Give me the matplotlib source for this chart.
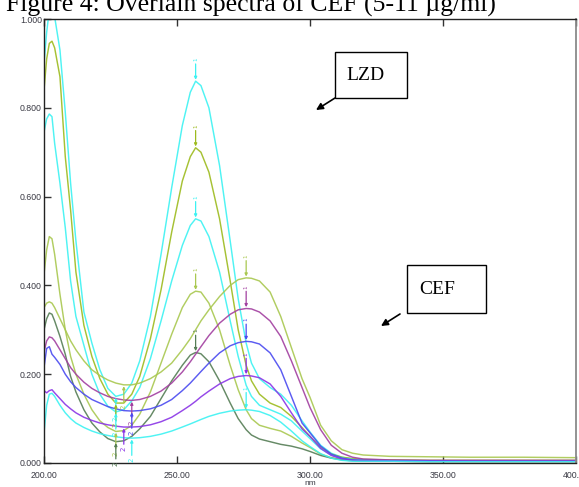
import matplotlib
matplotlib.use("Agg")
import matplotlib.pyplot as plt
import numpy as np
from matplotlib.patches import Rectangle, FancyArrowPatch

# ---------------- data ----------------
wl = [200, 201, 202, 203, 204, 206, 208, 210, 212, 215, 218, 221, 224, 227, 230,
      233, 236, 240, 244, 248, 252, 255, 257, 259, 262, 266, 270, 273, 276, 278,
      281, 285, 289, 293, 297, 300, 304, 308, 312, 316, 320, 330, 345, 360, 380, 400]

lzd_cyan_1 = [0.90, 0.97, 1.02, 1.04, 1.005, 0.93, 0.79, 0.63, 0.50, 0.34, 0.27, 0.21, 0.168, 0.15, 0.155,
              0.18, 0.23, 0.33, 0.47, 0.62, 0.76, 0.835, 0.86, 0.85, 0.80, 0.67, 0.50, 0.37, 0.27, 0.225,
              0.19, 0.17, 0.155, 0.13, 0.095, 0.07, 0.04, 0.022, 0.013, 0.009, 0.007, 0.006, 0.005, 0.005, 0.005, 0.005]
lzd_green_2 = [0.84, 0.91, 0.945, 0.95, 0.935, 0.87, 0.69, 0.57, 0.43, 0.31, 0.24, 0.19, 0.155, 0.135, 0.135,
               0.155, 0.195, 0.28, 0.39, 0.52, 0.635, 0.69, 0.71, 0.70, 0.655, 0.55, 0.41, 0.30, 0.22, 0.185,
               0.155, 0.135, 0.125, 0.105, 0.08, 0.06, 0.035, 0.02, 0.013, 0.01, 0.008, 0.007, 0.006, 0.006, 0.006, 0.006]
lzd_cyan_3 = [0.745, 0.775, 0.786, 0.78, 0.72, 0.63, 0.53, 0.41, 0.33, 0.265, 0.20, 0.155, 0.128, 0.115, 0.12,
              0.14, 0.17, 0.235, 0.32, 0.41, 0.49, 0.535, 0.55, 0.545, 0.51, 0.43, 0.32, 0.24, 0.175, 0.15,
              0.13, 0.12, 0.11, 0.095, 0.072, 0.055, 0.032, 0.018, 0.011, 0.008, 0.006, 0.005, 0.005, 0.005, 0.005, 0.005]
lzd_green_4 = [0.425, 0.48, 0.51, 0.505, 0.47, 0.38, 0.30, 0.24, 0.20, 0.155, 0.12, 0.095, 0.08, 0.071, 0.073,
               0.085, 0.11, 0.16, 0.225, 0.29, 0.35, 0.38, 0.387, 0.385, 0.36, 0.30, 0.22, 0.165, 0.12, 0.10,
               0.085, 0.078, 0.072, 0.06, 0.045, 0.035, 0.02, 0.012, 0.008, 0.006, 0.005, 0.005, 0.004, 0.004, 0.004, 0.004]
lzd_dark_5 = [0.30, 0.325, 0.338, 0.335, 0.32, 0.285, 0.245, 0.195, 0.16, 0.12, 0.09, 0.07, 0.055, 0.048, 0.05,
              0.06, 0.077, 0.105, 0.145, 0.185, 0.22, 0.243, 0.249, 0.246, 0.228, 0.185, 0.135, 0.10, 0.075, 0.063,
              0.054, 0.048, 0.042, 0.038, 0.032, 0.026, 0.017, 0.011, 0.007, 0.005, 0.004, 0.004, 0.003, 0.003, 0.003, 0.003]

cef_green_1 = [0.35, 0.36, 0.363, 0.36, 0.35, 0.325, 0.30, 0.275, 0.255, 0.23, 0.21, 0.197, 0.187, 0.18, 0.176,
               0.176, 0.18, 0.19, 0.205, 0.225, 0.255, 0.28, 0.30, 0.32, 0.345, 0.375, 0.40, 0.413, 0.417, 0.416,
               0.41, 0.385, 0.33, 0.26, 0.19, 0.148, 0.085, 0.05, 0.03, 0.022, 0.018, 0.015, 0.014, 0.013, 0.013, 0.012]
cef_magenta_2 = [0.25, 0.275, 0.284, 0.282, 0.275, 0.255, 0.235, 0.215, 0.20, 0.182, 0.168, 0.158, 0.15, 0.145, 0.142,
                 0.141, 0.143, 0.15, 0.162, 0.18, 0.205, 0.228, 0.245, 0.262, 0.287, 0.315, 0.335, 0.345, 0.348, 0.347,
                 0.34, 0.32, 0.285, 0.23, 0.17, 0.125, 0.075, 0.04, 0.022, 0.013, 0.009, 0.007, 0.006, 0.006, 0.006, 0.006]
cef_blue_3 = [0.215, 0.258, 0.262, 0.245, 0.238, 0.222, 0.20, 0.183, 0.17, 0.155, 0.143, 0.135, 0.127, 0.122, 0.118,
              0.117, 0.118, 0.122, 0.13, 0.143, 0.163, 0.18, 0.193, 0.206, 0.225, 0.248, 0.264, 0.271, 0.274, 0.273,
              0.268, 0.248, 0.21, 0.15, 0.09, 0.068, 0.038, 0.02, 0.011, 0.007, 0.006, 0.005, 0.005, 0.004, 0.004, 0.004]
cef_violet_4 = [0.163, 0.158, 0.163, 0.165, 0.158, 0.145, 0.132, 0.122, 0.113, 0.103, 0.096, 0.09, 0.086, 0.083, 0.081,
                0.081, 0.082, 0.086, 0.093, 0.103, 0.118, 0.13, 0.139, 0.149, 0.162, 0.178, 0.19, 0.195, 0.197, 0.196,
                0.192, 0.178, 0.15, 0.113, 0.077, 0.06, 0.033, 0.017, 0.009, 0.006, 0.005, 0.004, 0.004, 0.004, 0.004, 0.004]
cef_cyan_5 = [0.067, 0.13, 0.155, 0.157, 0.15, 0.13, 0.113, 0.10, 0.09, 0.08, 0.072, 0.066, 0.062, 0.059, 0.057,
              0.056, 0.057, 0.06, 0.065, 0.072, 0.081, 0.088, 0.093, 0.098, 0.105, 0.112, 0.117, 0.119, 0.12, 0.119,
              0.116, 0.107, 0.092, 0.072, 0.05, 0.037, 0.021, 0.011, 0.006, 0.004, 0.004, 0.004, 0.003, 0.003, 0.003, 0.003]

series = [
    (lzd_cyan_1, "#3CF2F2"),
    (lzd_green_2, "#9DBB1E"),
    (lzd_cyan_3, "#3CF2F2"),
    (lzd_green_4, "#A9C850"),
    (lzd_dark_5, "#557D55"),
    (cef_green_1, "#A9C850"),
    (cef_magenta_2, "#A23FA0"),
    (cef_blue_3, "#4A4AF0"),
    (cef_violet_4, "#8A34E6"),
    (cef_cyan_5, "#3CF2F2"),
]

yticks = [0.0, 0.2, 0.4, 0.6, 0.8, 1.0]
ytick_labels = ["0.000", "0.200", "0.400", "0.600", "0.800", "1.000"]
xticks = [200, 250, 300, 350, 400]
xtick_labels = ["200.00", "250.00", "300.00", "350.00", "400.00"]

W, H = 579, 487
fig = plt.figure(figsize=(W / 100, H / 100), dpi=100)
ax = fig.add_axes([44 / W, 1 - 463 / H, (576 - 44) / W, (463 - 19) / H])

x = np.array(wl, dtype=float)
for vals, col in series:
    y = np.array(vals)
    ax.plot(x, y, color=col, lw=1.05, alpha=0.9, solid_joinstyle="round")

# peak ("1") and valley ("2") markers
for i, (vals, col) in enumerate(series):
    y = np.array(vals)
    if i < 5:
        pk_win = (x >= 250) & (x <= 265)
        mn_win = (x >= 220) & (x <= 232)
    else:
        pk_win = (x >= 268) & (x <= 285)
        mn_win = (x >= 225) & (x <= 240)
    pi = np.where(pk_win)[0][np.argmax(y[pk_win])]
    mi = np.where(mn_win)[0][np.argmin(y[mn_win])]
    ax.annotate("1", xy=(x[pi], y[pi] + 0.003), xytext=(x[pi], y[pi] + 0.045),
                ha="center", va="bottom", fontsize=4, color=col, rotation=90,
                arrowprops=dict(arrowstyle="-|>", color=col, lw=0.9, mutation_scale=4,
                                shrinkA=0, shrinkB=0), annotation_clip=False)
    ax.annotate("2", xy=(x[mi], y[mi] - 0.003), xytext=(x[mi], y[mi] - 0.045),
                ha="center", va="top", fontsize=5, color=col, rotation=90,
                arrowprops=dict(arrowstyle="-|>", color=col, lw=0.9, mutation_scale=4,
                                shrinkA=0, shrinkB=0), annotation_clip=False)

ax.set_xlim(200, 400)
ax.set_ylim(0, 1.0)
ax.set_yticks(yticks)
ax.set_yticklabels(ytick_labels)
ax.set_xticks(xticks)
ax.set_xticklabels(xtick_labels)
ax.tick_params(axis="both", direction="in", length=5, width=1.0, colors="#333333",
               labelsize=6.3, labelcolor="#3a3a44")
ax.tick_params(axis="x", pad=5.5, top=True)
ax.tick_params(axis="y", pad=1.5)
for lab in ax.get_xticklabels() + ax.get_yticklabels():
    lab.set_fontfamily("Liberation Sans")
for s in ["left", "bottom", "top"]:
    ax.spines[s].set_color("#222222")
    ax.spines[s].set_linewidth(1.0)
ax.spines["right"].set_color("#8a8a8a")
ax.spines["right"].set_linewidth(1.3)
ax.set_xlabel("nm", fontsize=6, family="Liberation Sans", color="#3a3a44", labelpad=0)

# title, partially cut at the top
fig.text(6 / W, 1 - 12 / H, "Figure 4: Overlain spectra of CEF (5-11 \u00b5g/ml)",
         family="Liberation Serif", fontsize=18.5, ha="left", va="baseline", color="black")

# annotation boxes
def px(xp, yp):
    return (xp / W, 1 - yp / H)

def box(x0, y0, x1, y1, text, tx, ty):
    fig.add_artist(Rectangle(px(x0, y1), (x1 - x0) / W, (y1 - y0) / H, transform=fig.transFigure,
                             fill=True, facecolor="white", edgecolor="black", lw=1.0))
    fig.text(*px(tx, ty), text, family="Liberation Serif", fontsize=14, ha="left", va="center")

box(335, 52, 407, 98, "LZD", 346, 76)
box(407, 265, 486, 313, "CEF", 419, 290)

for (x0, y0), (x1, y1) in [((335, 98), (316, 110)), ((400, 314), (381, 326))]:
    fig.add_artist(FancyArrowPatch(px(x0, y0), px(x1, y1), transform=fig.transFigure,
                                   arrowstyle="-|>", mutation_scale=10, color="black", lw=1.2,
                                   shrinkA=0, shrinkB=0))

fig.savefig("out.png", dpi=100)
